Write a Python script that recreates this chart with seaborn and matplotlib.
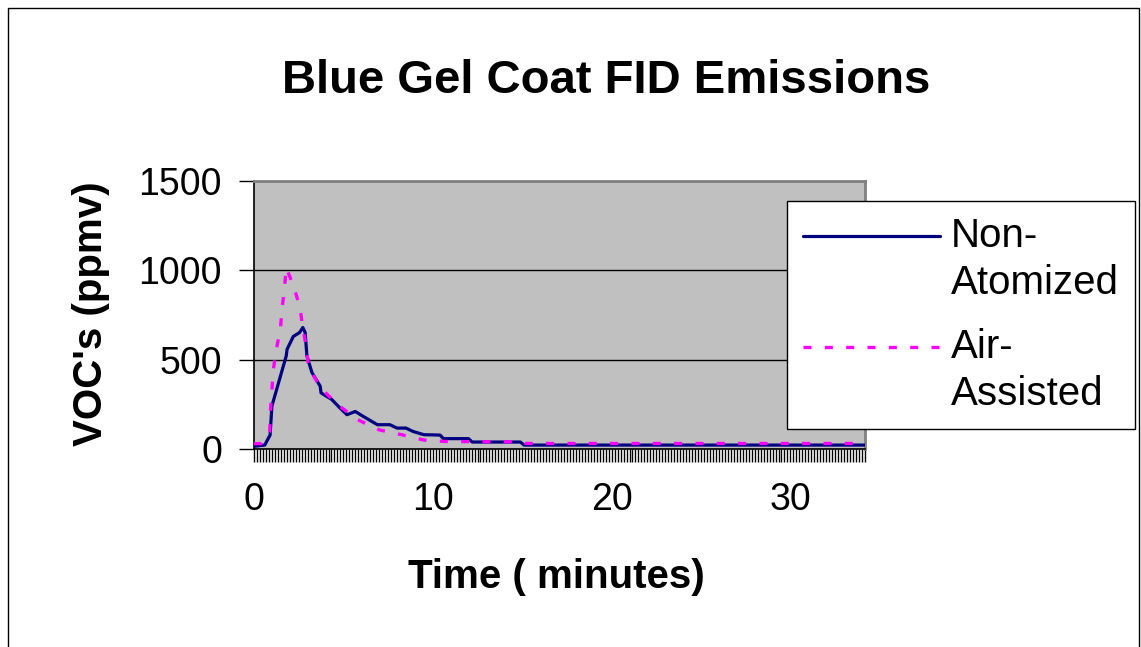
import numpy as np
import pandas as pd
import seaborn as sns
import matplotlib.pyplot as plt
from matplotlib.lines import Line2D
from matplotlib.legend_handler import HandlerLine2D

# readings (time in minutes, VOC in ppmv)
t_non = [0.0, 0.6, 0.9, 1.0, 1.8, 1.85, 2.2, 2.55, 2.73, 2.86, 2.96, 3.24, 3.7, 3.75,
         4.35, 4.8, 5.2, 5.66, 6.1, 6.9, 7.6, 8.0, 8.5, 8.9, 9.5, 10.4, 10.6, 12.0,
         12.2, 14.9, 15.1, 34.17]
v_non = [15, 22, 78, 240, 520, 558, 630, 652, 680, 652, 520, 428, 352, 314,
         277, 230, 192, 210, 183, 136, 136, 117, 117, 98, 80, 78, 58, 58,
         39, 39, 22, 22]

t_air = [0.0, 0.4, 0.88, 0.92, 1.08, 1.26, 1.48, 1.57, 1.72, 1.8, 2.2, 2.57, 2.73,
         2.95, 3.05, 3.8, 4.8, 5.8, 7.0, 8.3, 9.5, 10.7, 15.0, 15.2, 34.17]
v_air = [30, 30, 98, 210, 445, 562, 676, 784, 915, 1015, 915, 794, 676,
         558, 455, 333, 239, 164, 107, 79, 50, 42, 40, 31, 31]

y_ticks = [0, 500, 1000, 1500]
x_ticks = [0, 10, 20, 30]

df_non = pd.DataFrame({"time": t_non, "voc": v_non})
df_air = pd.DataFrame({"time": t_air, "voc": v_air})

sns.set_style("white")
plt.rcParams['font.family'] = ['Liberation Sans', 'DejaVu Sans']
plt.rcParams.update({"text.color": "black", "axes.labelcolor": "black",
                     "xtick.color": "black", "ytick.color": "black"})


class HandlerTopLine(HandlerLine2D):
    # put the legend line next to the first line of a two-line label
    def create_artists(self, legend, orig_handle, xdescent, ydescent, width,
                       height, fontsize, trans):
        return super().create_artists(legend, orig_handle, xdescent, ydescent,
                                      width, height + 35, fontsize, trans)


fig = plt.figure(figsize=(11.41, 6.47), dpi=100)
ax = fig.add_axes([254 / 1141, 1 - 449 / 647, (865 - 254) / 1141, (449 - 181) / 647])
ax.set_facecolor("#c0c0c0")

sns.lineplot(data=df_non, x="time", y="voc", ax=ax, color="#000080", lw=2.3,
             label="Non-\nAtomized", zorder=3)
sns.lineplot(data=df_air, x="time", y="voc", ax=ax, color="#ff00ff", lw=2.4,
             dashes=(2.4, 4.0), label="Air-\nAssisted", zorder=4)

ax.set_xlim(0, 34.17)
ax.set_ylim(0, 1500)
ax.set_yticks(y_ticks)
ax.set_xticks(x_ticks)
ax.set_xticks(np.arange(0, 34.2, 1 / 6), minor=True)
ax.tick_params(axis="y", which="major", direction="out", length=11, width=1,
               color="black", labelsize=27, pad=12, left=True)
ax.tick_params(axis="x", which="major", direction="out", length=9, width=1,
               color="black", labelsize=27, pad=15, bottom=True)
ax.tick_params(axis="x", which="minor", direction="out", length=9, width=1,
               color="black", bottom=True)
ax.yaxis.grid(True, color="black", lw=1)
ax.set_axisbelow(True)

for s in ["top", "right"]:
    ax.spines[s].set_color("#808080")
    ax.spines[s].set_linewidth(2)
for s in ["left", "bottom"]:
    ax.spines[s].set_color("black")
    ax.spines[s].set_linewidth(1.2)

ax.set_xlabel("Time ( minutes)", fontsize=29, fontweight="bold")
ax.set_ylabel("VOC's (ppmv)", fontsize=29, fontweight="bold")
ax.xaxis.set_label_coords(0.495, -0.405)
ax.yaxis.set_label_coords(-0.235, 0.504)

fig.text(606 / 1141, 1 - 81 / 647, "Blue Gel Coat FID Emissions", fontsize=34,
         fontweight="bold", ha="center", va="center")

leg = ax.legend(loc="upper left", bbox_to_anchor=(787 / 1141, 1 - 201 / 647),
                bbox_transform=fig.transFigure, borderaxespad=0, fontsize=29,
                frameon=True, fancybox=False, handlelength=3.4, handletextpad=0.27,
                borderpad=0.4, labelspacing=0.67, framealpha=1,
                handler_map={Line2D: HandlerTopLine()})
leg.get_frame().set_edgecolor("black")
leg.get_frame().set_linewidth(1)
for txt in leg.get_texts():
    txt.set_linespacing(1.28)

# outer chart border
fig.add_artist(Line2D([8 / 1141, 8 / 1141, 1139 / 1141, 1139 / 1141],
                      [0, 1 - 8 / 647, 1 - 8 / 647, 0],
                      transform=fig.transFigure, color="black", lw=1))

fig.savefig("out.png", dpi=100)
